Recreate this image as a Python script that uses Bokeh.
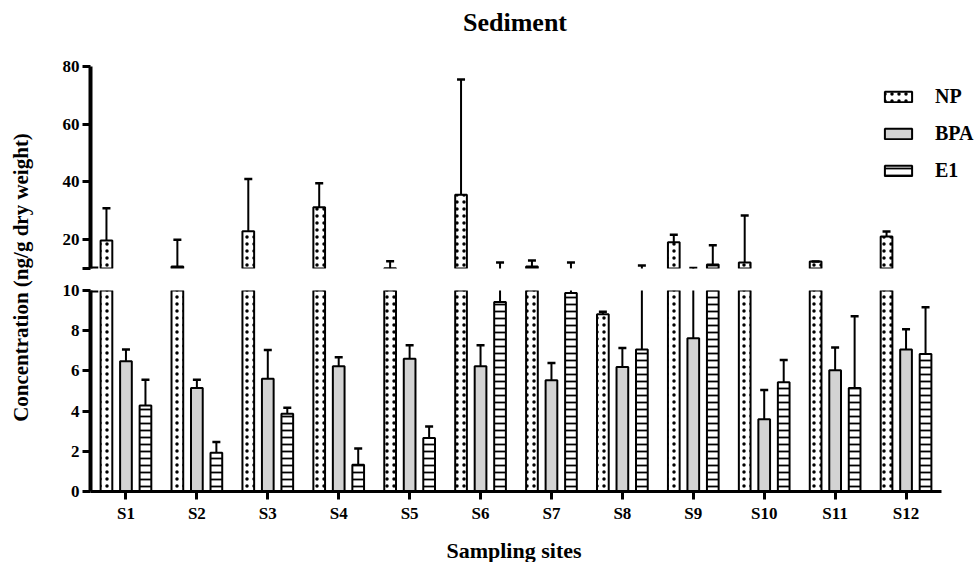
import math
from bokeh.plotting import figure
from bokeh.models import (ColumnDataSource, FixedTicker, Label, Legend,
                          LegendItem, Range1d, CDSView, BooleanFilter)
from bokeh.transform import dodge
from bokeh.layouts import row, column
from bokeh.embed import file_html
from bokeh.resources import INLINE

sites = ["S1", "S2", "S3", "S4", "S5", "S6", "S7", "S8", "S9", "S10", "S11", "S12"]
np_mean = [19.7, 10.7, 22.9, 31.2, 10.1, 35.6, 10.7, 8.82, 19.1, 12.1, 12.4, 21.1]
np_err = [11.2, 9.3, 18.1, 8.3, 2.4, 39.9, 2.1, 0.12, 2.6, 16.3, 0.0, 1.7]
bpa_mean = [6.48, 5.15, 5.61, 6.23, 6.61, 6.23, 5.53, 6.19, 7.62, 3.59, 6.03, 7.06]
bpa_err = [0.58, 0.41, 1.43, 0.45, 0.66, 1.04, 0.86, 0.95, 2.58, 1.46, 1.14, 1.01]
e1_mean = [4.28, 1.93, 3.87, 1.33, 2.66, 9.43, 9.88, 7.06, 11.4, 5.43, 5.15, 6.84]
e1_err = [1.28, 0.53, 0.30, 0.81, 0.58, 2.67, 2.2, 3.94, 6.7, 1.11, 3.57, 2.33]
upper_ticks = [10, 20, 40, 60, 80]
lower_ticks = [0, 2, 4, 6, 8, 10]
break_at = 10

FONT = "Liberation Serif"
W = 939            # width of the plot column
LEFT = 50          # left border of every frame in the column
FRAME_W = W - LEFT  # frames run to the right edge of the page
AXIS_W = 851        # drawn length of the x axis (12 site slots)

n = len(sites)
xi = [i + 0.5 for i in range(n)]
data = dict(site=sites, xi=xi)
for key, m, e in (("np", np_mean, np_err), ("bpa", bpa_mean, bpa_err), ("e1", e1_mean, e1_err)):
    data[key] = m
    data[key + "_hi"] = [a + b for a, b in zip(m, e)]
src = ColumnDataSource(data)

x_end = n * FRAME_W / AXIS_W

series = [
    ("NP", "np", -0.275, dict(fill_color="white", hatch_pattern="dot", hatch_color="black",
                             hatch_scale=7, hatch_weight=1.5)),
    ("BPA", "bpa", 0.0, dict(fill_color="#d3d3d3")),
    ("E1", "e1", 0.275, dict(fill_color="white", hatch_pattern="horizontal_line",
                            hatch_color="black", hatch_scale=7, hatch_weight=1.8)),
]


def base(p):
    p.grid.visible = False
    p.outline_line_color = None
    p.background_fill_color = "white"
    p.border_fill_color = "white"


def style(p):
    base(p)
    ax = p.yaxis[0]
    ax.axis_line_width = 4
    ax.major_tick_line_width = 3
    ax.major_tick_out = 8
    ax.major_tick_in = 0
    ax.minor_tick_line_color = None
    ax.major_label_text_font = FONT
    ax.major_label_text_font_style = "bold"
    ax.major_label_text_font_size = "17px"
    ax.major_label_text_color = "black"
    ax.major_label_standoff = 3


def keep(values, upper):
    return CDSView(filter=BooleanFilter([(v > break_at) if upper else True for v in values]))


def draw(p, upper):
    proxies = {}
    for name, key, off, kw in series:
        x = dodge("xi", off)
        if upper:
            cap_view = CDSView(filter=BooleanFilter([v > break_at for v in data[key + "_hi"]]))
        else:
            cap_view = CDSView(filter=BooleanFilter([v < break_at for v in data[key + "_hi"]]))
        p.vbar(x=x, top=key, bottom=0, width=0.165, source=src, view=keep(data[key], upper),
               line_color="black", line_width=2, **kw)
        if upper:
            # hidden copy that only lends its look to the legend
            proxies[name] = p.vbar(x=x, top=key, bottom=0, width=0.165, source=src,
                                   line_color="black", line_width=2, visible=False, **kw)
        p.segment(x0=x, y0=key, x1=x, y1=key + "_hi", source=src,
                  view=keep(data[key + "_hi"], upper),
                  line_color="black", line_width=2)
        p.scatter(x=x, y=key + "_hi", source=src, view=cap_view, marker="dash", size=8,
                  line_color="black", line_width=2.5)
    brk = ColumnDataSource(dict(x=[0.0], y=[break_at]))
    p.segment(x0=dodge("x", -0.12), y0="y", x1=dodge("x", 0.11), y1="y", source=brk,
              line_color="black", line_width=4)
    return proxies


def strip(height):
    f = figure(width=W, height=height, x_range=Range1d(0, FRAME_W), y_range=Range1d(0, height),
               x_axis_type=None, y_axis_type=None, toolbar_location=None,
               output_backend="svg", min_border_left=LEFT, min_border_right=0,
               min_border_top=0, min_border_bottom=0)
    base(f)
    return f


# title strip
title_fig = strip(44)
title_fig.add_layout(Label(x=424.5, y=22, text="Sediment",
                           text_align="center", text_baseline="middle", text_font=FONT,
                           text_font_style="bold", text_font_size="26px", text_color="black"))

# upper panel (10 - 80)
upper = figure(width=W, height=235, x_range=Range1d(0, x_end), y_range=Range1d(10, 80),
               x_axis_location=None, toolbar_location=None, output_backend="svg",
               min_border_left=LEFT, min_border_right=0, min_border_top=22,
               min_border_bottom=11)
proxies = draw(upper, True)
style(upper)
upper.yaxis[0].ticker = FixedTicker(ticks=upper_ticks)
upper.yaxis[0].major_label_overrides = {10: ""}

legend = Legend(items=[LegendItem(label=nm, renderers=[proxies[nm]]) for nm, _, _, _ in series],
                location=(791, 86), orientation="vertical",
                glyph_width=34, glyph_height=13, label_height=22, spacing=14,
                label_standoff=20, padding=0, margin=0,
                border_line_color=None, background_fill_alpha=0,
                inactive_fill_alpha=0,
                label_text_font=FONT, label_text_font_style="bold",
                label_text_font_size="20px", label_text_color="black")
upper.add_layout(legend, "center")

# lower panel (0 - 10)
lower = figure(width=W, height=247, x_range=Range1d(0, x_end), y_range=Range1d(0, 10),
               toolbar_location=None, output_backend="svg",
               min_border_left=LEFT, min_border_right=0, min_border_top=11,
               min_border_bottom=35)
draw(lower, False)
style(lower)
lower.yaxis[0].ticker = FixedTicker(ticks=lower_ticks)
xa = lower.xaxis[0]
xa.bounds = (0, n)
xa.ticker = FixedTicker(ticks=xi)
xa.major_label_overrides = {t: s for t, s in zip(xi, sites)}
xa.minor_tick_line_color = None
xa.axis_line_width = 3
xa.major_tick_line_width = 3
xa.major_tick_out = 8
xa.major_tick_in = 0
xa.major_label_text_font = FONT
xa.major_label_text_font_style = "bold"
xa.major_label_text_font_size = "17px"
xa.major_label_text_color = "black"
xa.major_label_standoff = 4

# x-axis title strip
xlab_fig = strip(36)
xlab_fig.add_layout(Label(x=423.5, y=12, text="Sampling sites",
                          text_align="center", text_baseline="middle", text_font=FONT,
                          text_font_style="bold", text_font_size="22px", text_color="black"))

# y-axis title strip
side = figure(width=40, height=562, x_range=Range1d(0, 40), y_range=Range1d(0, 562),
              x_axis_type=None, y_axis_type=None, toolbar_location=None,
              output_backend="svg", min_border=0)
base(side)
side.add_layout(Label(x=20, y=285, text="Concentration (ng/g dry weight)", angle=math.pi / 2,
                      text_align="center", text_baseline="middle", text_font=FONT,
                      text_font_style="bold", text_font_size="21px", text_color="black"))

layout = row(side, column(title_fig, upper, lower, xlab_fig, spacing=0), spacing=0)

open("out.html", "w").write(file_html(layout, INLINE))
